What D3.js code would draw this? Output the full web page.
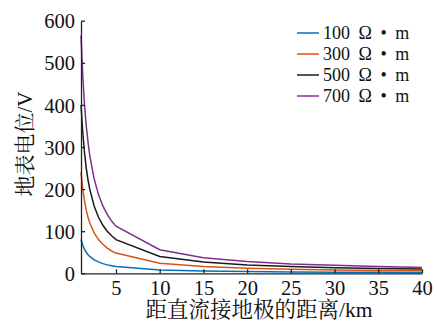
<!DOCTYPE html>
<html><head><meta charset="utf-8">
<script src="https://cdn.jsdelivr.net/npm/d3@7"></script>
<style>
body{margin:0;background:#fff;}
text{font-family:"Liberation Serif","Times New Roman",serif;}
.cjk{font-family:"Liberation Serif","Noto Serif CJK SC","Noto Sans CJK SC",serif;}
</style></head>
<body><svg id="c" width="437" height="322"></svg>
<script>
const distances = [1,1.2,1.4,1.6,1.8,2,2.5,3,3.5,4,4.5,5,10,15,20,25,30,35,40];
const v100 = [80,67,57,50,44,40,32,27,23,20,18,16,8,5.3,4,3.2,2.7,2.3,2];
const v300 = [240,200,172,150,133,120,96,80,69,60,53,48,24,16,12,9.6,8,6.9,6];
const v500 = [400,335,287,250,222,200,160,133,114,100,89,80,40,27,20,16,13,11.5,10];
const v700 = [565,470,400,350,312,280,225,187,160,140,124,112,56,37,28,22,19,16,14];
const seriesNames = ["100 Ω • m","300 Ω • m","500 Ω • m","700 Ω • m"];
const xTicks = [5,10,15,20,25,30,35,40];
const yTicks = [0,100,200,300,400,500,600];
const colors = ["#0072BD","#D95319","#1a1a1a","#7E2F8E"];
const series = [v100,v300,v500,v700];

const svg = d3.select("#c");
const L=81, R=422, T=20.7, B=273.3;
const x = d3.scaleLinear().domain([1,40]).range([L,R]);
const y = d3.scaleLinear().domain([0,600]).range([B,T]);

const line = d3.line().x(d=>x(d[0])).y(d=>y(d[1]));
series.forEach((s,i)=>{
  svg.append("path").datum(distances.map((d,j)=>[d,s[j]]))
    .attr("d",line).attr("fill","none").attr("stroke",colors[i]).attr("stroke-width",1.5);
});

const xa = svg.append("g").attr("transform",`translate(0,${B})`)
  .call(d3.axisBottom(x).tickValues(xTicks).tickSize(-4).tickSizeOuter(0).tickPadding(7));
const ya = svg.append("g").attr("transform",`translate(${L},0)`)
  .call(d3.axisLeft(y).tickValues(yTicks).tickSize(-4).tickSizeOuter(0).tickPadding(6));
[xa,ya].forEach(a=>{
  a.selectAll("path,line").attr("stroke","#222").attr("stroke-width",1.3);
  a.selectAll("text").attr("font-size",20.5).attr("fill","#111")
    .attr("font-family","Liberation Serif, serif");
});
xa.selectAll("text").attr("dy","0.71em");
ya.selectAll("text").attr("dy","0.35em");

svg.append("text").attr("class","cjk").attr("x",259).attr("y",317)
  .attr("text-anchor","middle").attr("font-size",21.5).attr("fill","#111")
  .text("距直流接地极的距离/km");
svg.append("text").attr("class","cjk")
  .attr("transform","translate(32,144) rotate(-90)")
  .attr("text-anchor","middle").attr("font-size",21).attr("fill","#111")
  .text("地表电位/V");

const lg = svg.append("g");
seriesNames.forEach((n,i)=>{
  const yy = 33 + i*21;
  lg.append("line").attr("x1",297).attr("x2",319).attr("y1",yy).attr("y2",yy)
    .attr("stroke",colors[i]).attr("stroke-width",1.5);
  lg.append("text").attr("x",323).attr("y",yy).attr("dy","0.36em")
    .attr("font-size",18).attr("word-spacing",4).attr("fill","#111").text(n);
});
</script></body></html>
